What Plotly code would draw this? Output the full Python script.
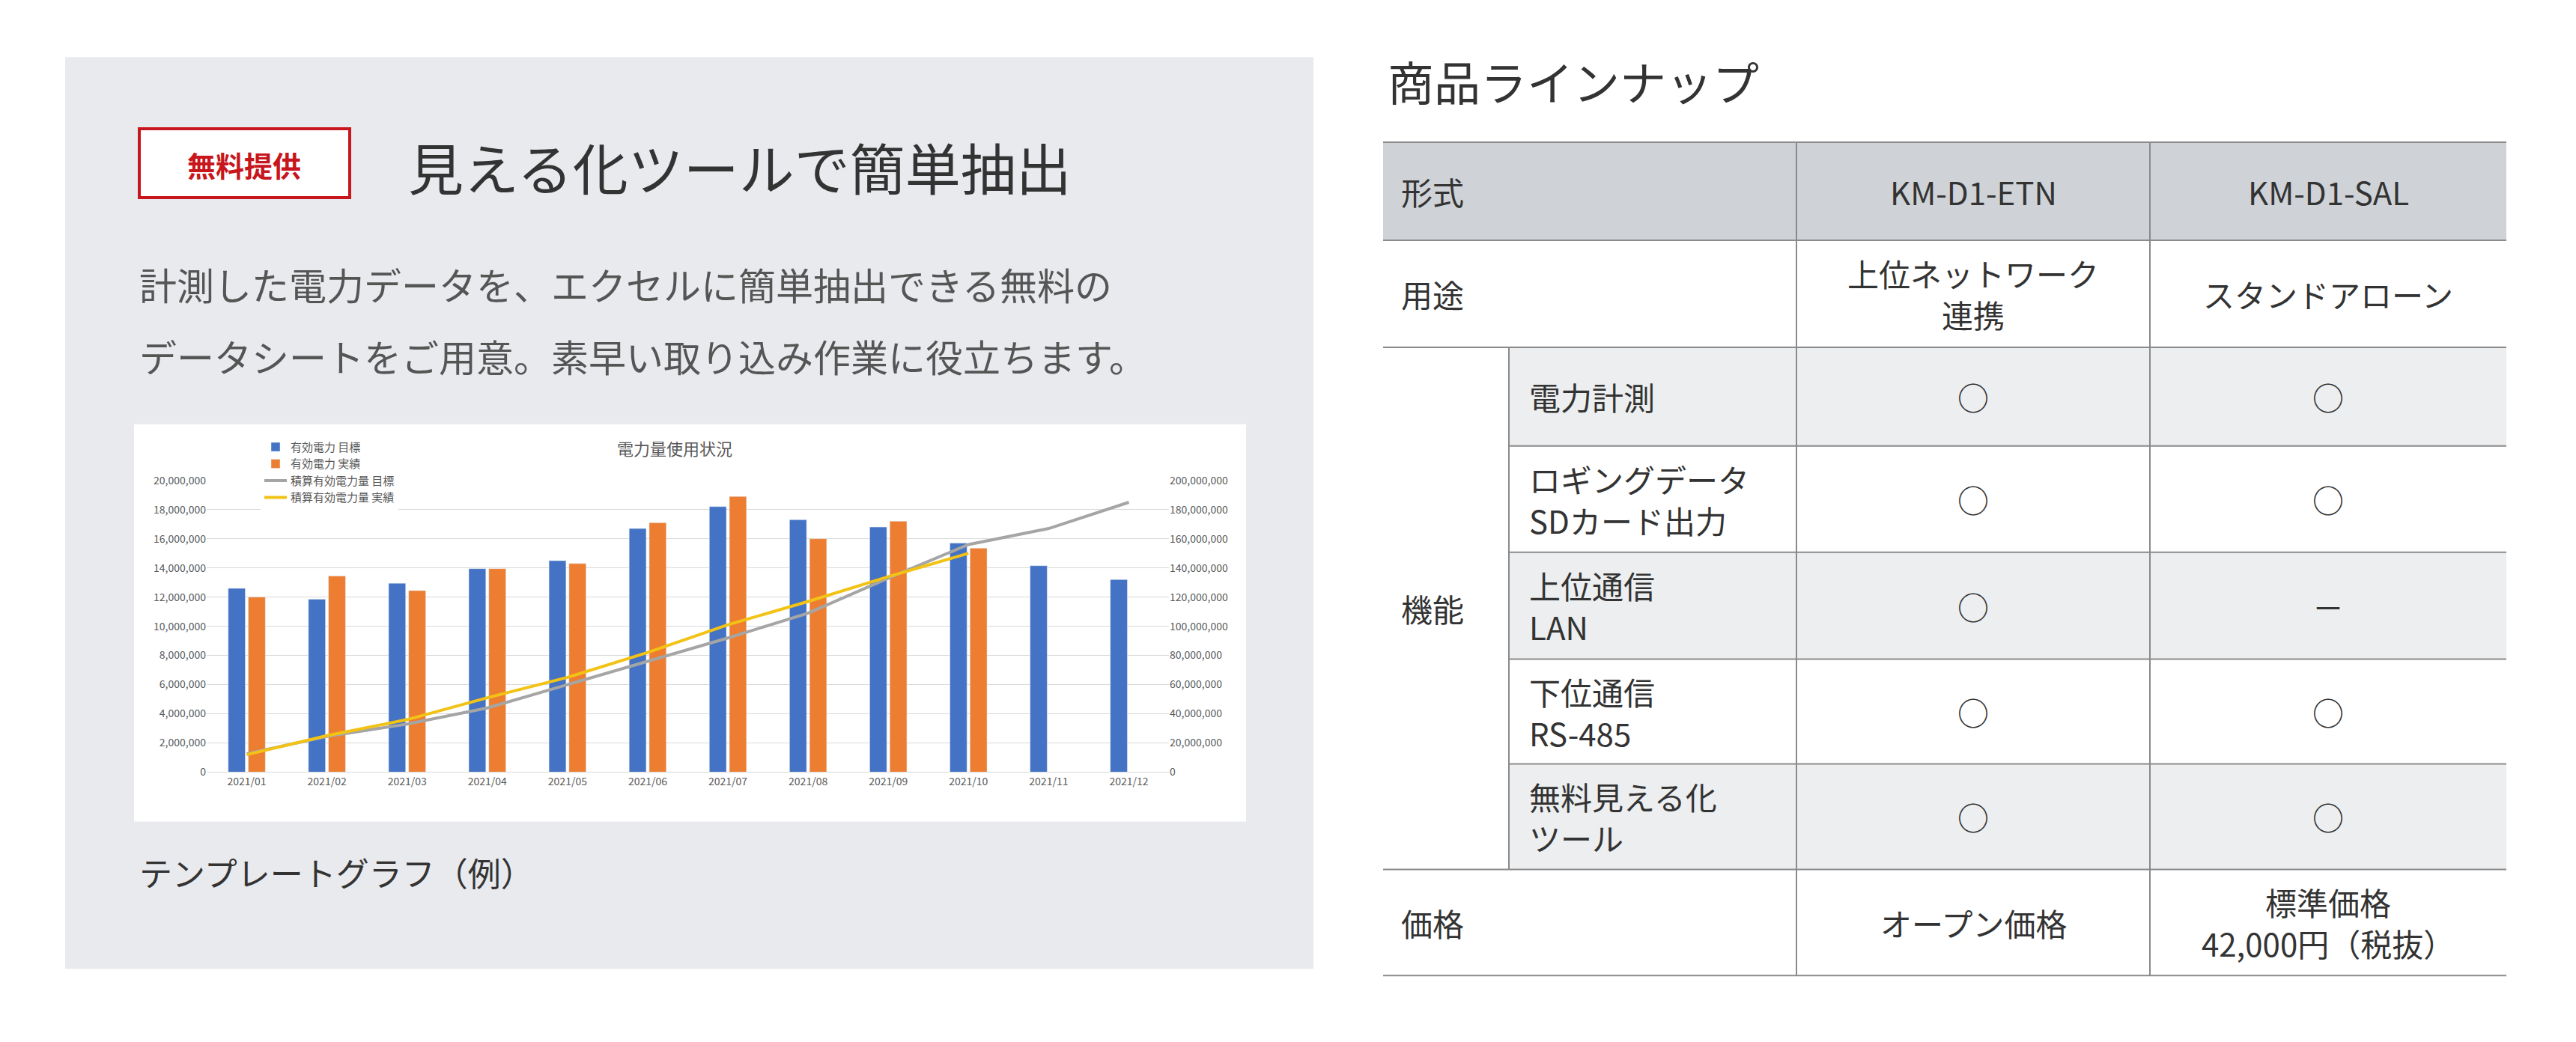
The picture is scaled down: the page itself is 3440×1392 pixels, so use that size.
import plotly.graph_objects as go

W, H = 3440, 1392

months = ["2021/01", "2021/02", "2021/03", "2021/04", "2021/05", "2021/06",
          "2021/07", "2021/08", "2021/09", "2021/10", "2021/11", "2021/12"]
target = [12600000, 11850000, 12950000, 13950000, 14500000, 16700000,
          18200000, 17300000, 16800000, 15700000, 14150000, 13200000]
actual = [12000000, 13450000, 12450000, 13950000, 14300000, 17100000,
          18900000, 16000000, 17200000, 15350000]
cum_target = [12600000, 24500000, 33000000, 44000000, 60000000, 76000000,
              92000000, 109000000, 133000000, 156000000, 167000000, 185000000]
cum_actual = [12000000, 25000000, 36000000, 51000000, 65000000, 82000000,
              101000000, 117000000, 134000000, 150000000]

left_ticks = list(range(0, 20000001, 2000000))
right_ticks = list(range(0, 200000001, 20000000))

FONT = "Noto Sans CJK JP"
TXT = "#333333"


def px(x):
    return x / W


def py(y):
    # small correction so the top of the layout sits a bit higher
    y = y - 17 * (1303 - y) / 1228
    return 1 - y / H


fig = go.Figure()
fig.add_bar(x=months, y=target, name="有効電力 目標", marker_color="#4472c4")
fig.add_bar(x=months[:len(actual)], y=actual, name="有効電力 実績", marker_color="#ed7d31")
fig.add_scatter(x=months, y=cum_target, name="積算有効電力量 目標", yaxis="y2",
                mode="lines", line=dict(color="#a5a5a5", width=4))
fig.add_scatter(x=months[:len(cum_actual)], y=cum_actual, name="積算有効電力量 実績", yaxis="y2",
                mode="lines", line=dict(color="#f2c314", width=4))

shapes = []
# gray panel + white chart box
shapes.append(dict(type="rect", xref="paper", yref="paper", x0=px(79), x1=px(1746),
                   y0=py(1294), y1=py(75), fillcolor="#e8eaed", line_width=0, layer="below"))
shapes.append(dict(type="rect", xref="paper", yref="paper", x0=px(171), x1=px(1656),
                   y0=py(1097), y1=py(566), fillcolor="white", line_width=0, layer="below"))
# red badge
shapes.append(dict(type="rect", xref="paper", yref="paper", x0=px(178), x1=px(459),
                   y0=py(263), y1=py(171), fillcolor="white", line=dict(color="#c8161d", width=4)))

# table
TX = [1839, 2007, 2391, 2863, 3339]
TY = [189, 320, 463, 595, 737, 880, 1020, 1161, 1303]
shapes.append(dict(type="rect", xref="paper", yref="paper", x0=px(TX[0]), x1=px(TX[4]),
                   y0=py(TY[1]), y1=py(TY[0]), fillcolor="#cfd2d6", line_width=0, layer="below"))
for i in (2, 4, 6):
    shapes.append(dict(type="rect", xref="paper", yref="paper", x0=px(TX[1]), x1=px(TX[4]),
                       y0=py(TY[i + 1]), y1=py(TY[i]), fillcolor="#eceef0", line_width=0, layer="below"))
for i, y in enumerate(TY):
    x0 = TX[1] if i in (3, 4, 5, 6) else TX[0]
    shapes.append(dict(type="line", xref="paper", yref="paper", x0=px(x0), x1=px(TX[4]),
                       y0=py(y), y1=py(y), line=dict(color="#8a8a8a", width=2)))
shapes.append(dict(type="line", xref="paper", yref="paper", x0=px(TX[1]), x1=px(TX[1]),
                   y0=py(TY[7]), y1=py(TY[2]), line=dict(color="#8a8a8a", width=2)))
for x in (TX[2], TX[3]):
    shapes.append(dict(type="line", xref="paper", yref="paper", x0=px(x), x1=px(x),
                       y0=py(TY[8]), y1=py(TY[0]), line=dict(color="#8a8a8a", width=2)))

ann = []


def text(x, y, s, size, anchor="left", color=TXT, **kw):
    ann.append(dict(x=px(x), y=py(y), xref="paper", yref="paper", text=s, showarrow=False,
                    xanchor=anchor, yanchor="middle", align=anchor if anchor != "center" else "center",
                    font=dict(family=FONT, size=size, color=color), **kw))


text(318, 218, "<b>無料提供</b>", 38, "center", "#c8161d")
text(535, 220, "見える化ツールで簡単抽出", 74)
text(176, 378, "計測した電力データを、エクセルに簡単抽出できる無料の", 50, color="#555555")
text(176, 474, "データシートをご用意。素早い取り込み作業に役立ちます。", 50, color="#555555")
text(176, 1165, "テンプレートグラフ（例）", 44)
text(893, 597, "電力量使用状況", 22, "center", "#595959")
text(1843, 107, "商品ラインナップ", 62)

c1 = (TX[2] + TX[3]) / 2
c2 = (TX[3] + TX[4]) / 2
rc = [(TY[i] + TY[i + 1]) / 2 for i in range(8)]
TS = 42
text(1861, rc[0], "形式", TS)
text(c1, rc[0], "KM-D1-ETN", TS, "center")
text(c2, rc[0], "KM-D1-SAL", TS, "center")
text(1861, rc[1], "用途", TS)
text(c1, rc[1], "上位ネットワーク<br>連携", TS, "center")
text(c2, rc[1], "スタンドアローン", TS, "center")
text(1861, (TY[2] + TY[7]) / 2, "機能", TS)
subs = ["電力計測", "ロギングデータ<br>SDカード出力", "上位通信<br>LAN", "下位通信<br>RS-485", "無料見える化<br>ツール"]
etn = ["○", "○", "○", "○", "○"]
sal = ["○", "○", "－", "○", "○"]
for i, s in enumerate(subs):
    text(2032, rc[2 + i], s, TS)
    text(c1, rc[2 + i], etn[i], TS, "center")
    text(c2, rc[2 + i], sal[i], TS, "center")
text(1861, rc[7], "価格", TS)
text(c1, rc[7], "オープン価格", TS, "center")
text(c2, rc[7], "標準価格<br>42,000円（税抜）", TS, "center")

tickfont = dict(family=FONT, size=14, color="#595959")
fig.update_layout(
    width=W, height=H, margin=dict(l=0, r=0, t=0, b=0),
    paper_bgcolor="white", plot_bgcolor="white",
    barmode="group", bargap=0.5, bargroupgap=0.15,
    shapes=shapes, annotations=ann,
    xaxis=dict(domain=[px(268), px(1553)], tickfont=tickfont, showgrid=False,
               showline=True, linecolor="#d9d9d9", ticks=""),
    yaxis=dict(domain=[py(1031), py(641)], range=[0, 20000000], tickvals=left_ticks,
               tickformat=",d", tickfont=tickfont, gridcolor="#d9d9d9", zeroline=False),
    yaxis2=dict(overlaying="y", side="right", range=[0, 200000000], tickvals=right_ticks,
                tickformat=",d", tickfont=tickfont, showgrid=False, zeroline=False),
    legend=dict(x=px(340), y=py(580), xanchor="left", yanchor="top", bgcolor="white",
                font=dict(family=FONT, size=15, color="#595959"), tracegroupgap=10),
    showlegend=True,
)

fig.write_html("out.html")
